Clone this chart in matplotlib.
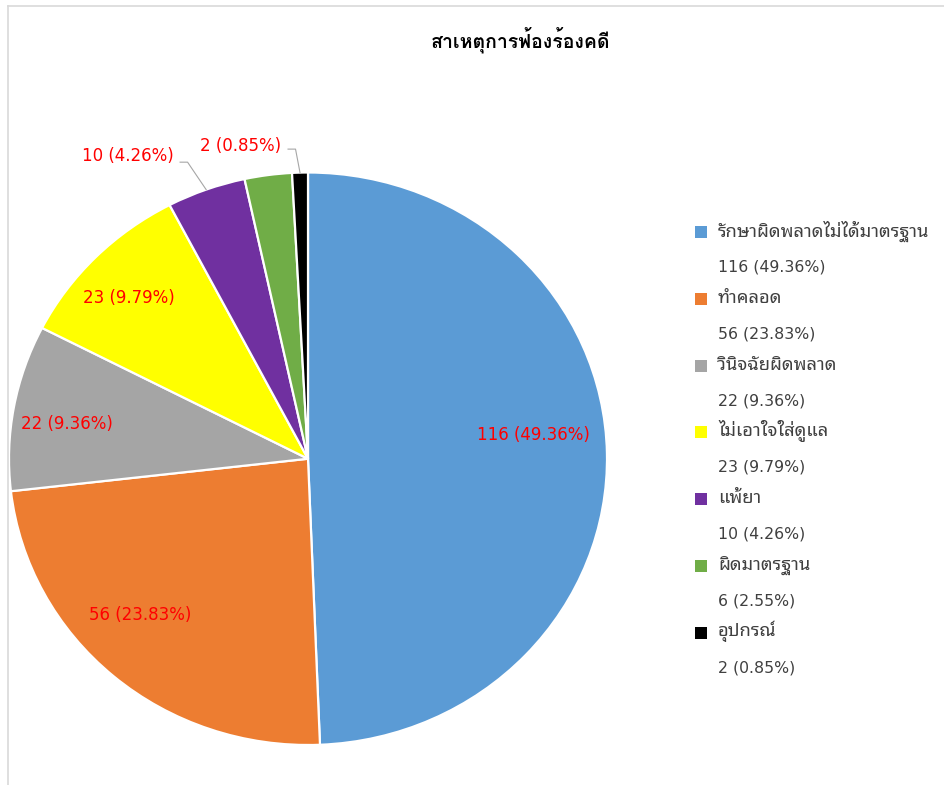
import numpy as np
import matplotlib
matplotlib.use("Agg")
import matplotlib.pyplot as plt
from matplotlib.lines import Line2D
from matplotlib.patches import Rectangle

plt.rcParams['font.family'] = ['DejaVu Sans', 'Noto Sans Thai Looped']
thai_font = ['Noto Sans Thai Looped', 'DejaVu Sans']

title = "สาเหตุการฟ้องร้องคดี"
categories = ["รักษาผิดพลาดไม่ได้มาตรฐาน", "ทำคลอด", "วินิจฉัยผิดพลาด",
              "ไม่เอาใจใส่ดูแล", "แพ้ยา", "ผิดมาตรฐาน", "อุปกรณ์"]
counts = [116, 56, 22, 23, 10, 6, 2]
percents = ["49.36%", "23.83%", "9.36%", "9.79%", "4.26%", "2.55%", "0.85%"]
colors = ["#5B9BD5", "#ED7D31", "#A5A5A5", "#FFFF00", "#7030A0", "#70AD47", "#000000"]
show_label = [True, True, True, True, True, False, True]

# label placement (radius, angle tweak in degrees), leader for outside ones
label_r = [0.758, 0.784, 0.815, 0.821, 1.216, 0.0, 1.115]
label_dt = [-5.2, 5.2, -1.8, -1.7, -9.8, 0.0, -10.2]
outside = [False, False, False, False, True, False, True]

W, H = 944, 785
fig = plt.figure(figsize=(W / 100, H / 100), dpi=100, facecolor="white")

# pie box in pixels (left, top, right, bottom)
px0, py0, px1, py1 = 9, 172.5, 607, 745
ax = fig.add_axes([px0 / W, 1 - py1 / H, (px1 - px0) / W, (py1 - py0) / H])
wedges, _ = ax.pie(counts, colors=colors, startangle=90, counterclock=False,
                   radius=1, wedgeprops=dict(edgecolor="white", linewidth=1.6))
ax.set_aspect('auto')
ax.set_xlim(-1, 1)
ax.set_ylim(-1, 1)
ax.axis('off')

total = sum(counts)
cum = np.cumsum([0] + counts)
for i, c in enumerate(counts):
    if not show_label[i]:
        continue
    mid = (cum[i] + cum[i + 1]) / 2 / total * 360
    th = np.radians(mid + label_dt[i])
    tx, ty = label_r[i] * np.sin(th), label_r[i] * np.cos(th)
    txt = "%d (%s)" % (c, percents[i])
    ax.text(tx, ty, txt, color="#FF0000", fontsize=12, ha="center", va="center",
            clip_on=False)
    if outside[i]:
        m = np.radians(mid)
        ex, ey = np.sin(m), np.cos(m)
        # text right end, short horizontal, then to slice edge
        sx = tx + 0.175 if i == 4 else tx + 0.16
        ly = ty - 0.02 if i == 4 else ty - 0.01
        elx = sx + 0.025
        ax.plot([sx, elx, ex], [ly, ly, ey], color="#A6A6A6", lw=0.8,
                clip_on=False)

fig.text(521 / W, 1 - 40 / H, title, ha="center", va="center",
         fontsize=14, fontweight="bold", color="#000000",
         family=['Loma', 'Noto Sans Thai Looped'])

# legend
y0, step = 232, 66.8
for i, cat in enumerate(categories):
    yl = y0 + i * step
    fig.add_artist(Rectangle((695 / W, 1 - (yl + 6) / H), 12 / W, 12 / H,
                             transform=fig.transFigure, facecolor=colors[i],
                             edgecolor="none"))
    fig.text(718 / W, 1 - (yl - 1) / H, cat, ha="left", va="center",
             fontsize=13.2, color="#404040", family=thai_font)
    fig.text(718 / W, 1 - (yl + 35) / H, "%d (%s)" % (counts[i], percents[i]),
             ha="left", va="center", fontsize=11.3, color="#404040")

# chart frame edges
fig.add_artist(Line2D([7.5 / W, 7.5 / W], [0, 1 - 5.5 / H], color="#D9D9D9", lw=1.2))
fig.add_artist(Line2D([7.5 / W, 1], [1 - 5.5 / H, 1 - 5.5 / H], color="#D9D9D9", lw=1.2))

fig.savefig("out.png", dpi=100, facecolor="white")
